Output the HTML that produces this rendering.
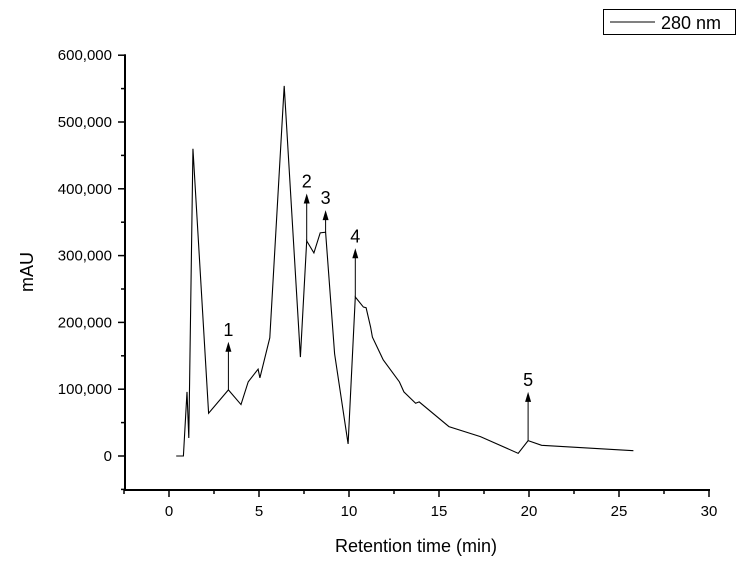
<!DOCTYPE html>
<html><head><meta charset="utf-8"><style>
html,body{margin:0;padding:0;background:#fff;}
svg{display:block;font-family:"Liberation Sans",Arial,sans-serif;}
</style></head><body>
<svg id="chart" width="743" height="564" viewBox="0 0 743 564">
<g id="axes"></g>
<g id="plot"></g>
<g id="legend">
<rect x="603.5" y="9.5" width="132" height="25" fill="#fff" stroke="#000" stroke-width="1"/>
<line x1="610" y1="22" x2="655" y2="22" stroke="#000" stroke-width="1"/>
<text x="661" y="29" font-size="18">280 nm</text>
</g>
</svg>
<script>
const times=[0.4,0.8,1.0,1.1,1.33,2.2,3.3,4.0,4.4,4.95,5.05,5.6,6.4,7.3,7.65,8.05,8.4,8.7,9.2,9.95,10.35,10.8,10.95,11.2,11.3,11.9,12.8,13.05,13.7,13.9,15.55,17.3,19.4,19.95,20.7,25.8];
const signal=[0,0,96000,27000,460000,64000,99000,77000,111000,130000,117000,177000,554000,148000,322000,304000,334000,335000,153000,18000,238000,223000,222000,193000,178000,144000,111000,96000,79000,81000,44000,29000,4000,23000,16000,8000];
const peakLabels=["1","2","3","4","5"];
const peakTimes=[3.3,7.65,8.7,10.35,19.95];
const peakBase=[99000,322000,335000,238000,23000];
const peakTop=[171000,393000,368000,311000,96000];
const xTicks=[0,5,10,15,20,25,30];
const yTicks=[0,100000,200000,300000,400000,500000,600000];
const yTickLabels=["0","100,000","200,000","300,000","400,000","500,000","600,000"];
const X=t=>169+t*18;
const Y=v=>456-v/100000*66.8;
const NS="http://www.w3.org/2000/svg";
function mk(tag,attrs,parent,txt){const e=document.createElementNS(NS,tag);for(const k in attrs)e.setAttribute(k,attrs[k]);if(txt!==undefined)e.textContent=txt;parent.appendChild(e);return e;}
const ax=document.getElementById('axes'),pl=document.getElementById('plot');
let e;
e=mk('line',{x1:125,y1:Y(600000)-1,x2:125,y2:491,stroke:'#000','stroke-width':2},ax);


e=mk('line',{x1:124,y1:490,x2:710,y2:490,stroke:'#000','stroke-width':2},ax);


xTicks.forEach(t=>{
 e=mk('line',{x1:X(t),y1:490,x2:X(t),y2:497,stroke:'#000','stroke-width':1.5},ax);
 
 
 e=mk('text',{x:X(t),y:516,'font-size':15,'text-anchor':'middle'},ax,String(t));
 
 
});
for(let t=-2.5;t<=30;t+=5){
 e=mk('line',{x1:X(t),y1:490,x2:X(t),y2:494,stroke:'#000','stroke-width':1.5},ax);
 
 
}
yTicks.forEach((v,i)=>{
 e=mk('line',{x1:118,y1:Y(v),x2:125,y2:Y(v),stroke:'#000','stroke-width':1.5},ax);
 
 
 e=mk('text',{x:112,y:Y(v)+5,'font-size':15,'text-anchor':'end'},ax,yTickLabels[i]);
 
 
});
for(let v=-50000;v<=550000;v+=100000){
 e=mk('line',{x1:121,y1:Y(v),x2:125,y2:Y(v),stroke:'#000','stroke-width':1.5},ax);
 
 
}
e=mk('text',{x:416,y:552,'font-size':18,'text-anchor':'middle'},ax,'Retention time (min)');


e=mk('text',{x:0,y:0,'font-size':18,'text-anchor':'middle',transform:'translate(33,272) rotate(-90)'},ax,'mAU');


e=mk('polyline',{points:times.map((t,i)=>X(t)+','+Y(signal[i])).join(' '),fill:'none',stroke:'#000','stroke-width':1.1},pl);


peakLabels.forEach((l,i)=>{
 const x=X(peakTimes[i]),y0=Y(peakBase[i]),y1=Y(peakTop[i]);
 e=mk('line',{x1:x,y1:y0,x2:x,y2:y1+9,stroke:'#000','stroke-width':1},pl);
 
 
 e=mk('polygon',{points:`${x},${y1} ${x-3},${y1+10} ${x+3},${y1+10}`,fill:'#000'},pl);
 
 
 e=mk('text',{x:x,y:y1-6,'font-size':18,'text-anchor':'middle'},pl,l);
 
 
});
</script>
</body></html>
